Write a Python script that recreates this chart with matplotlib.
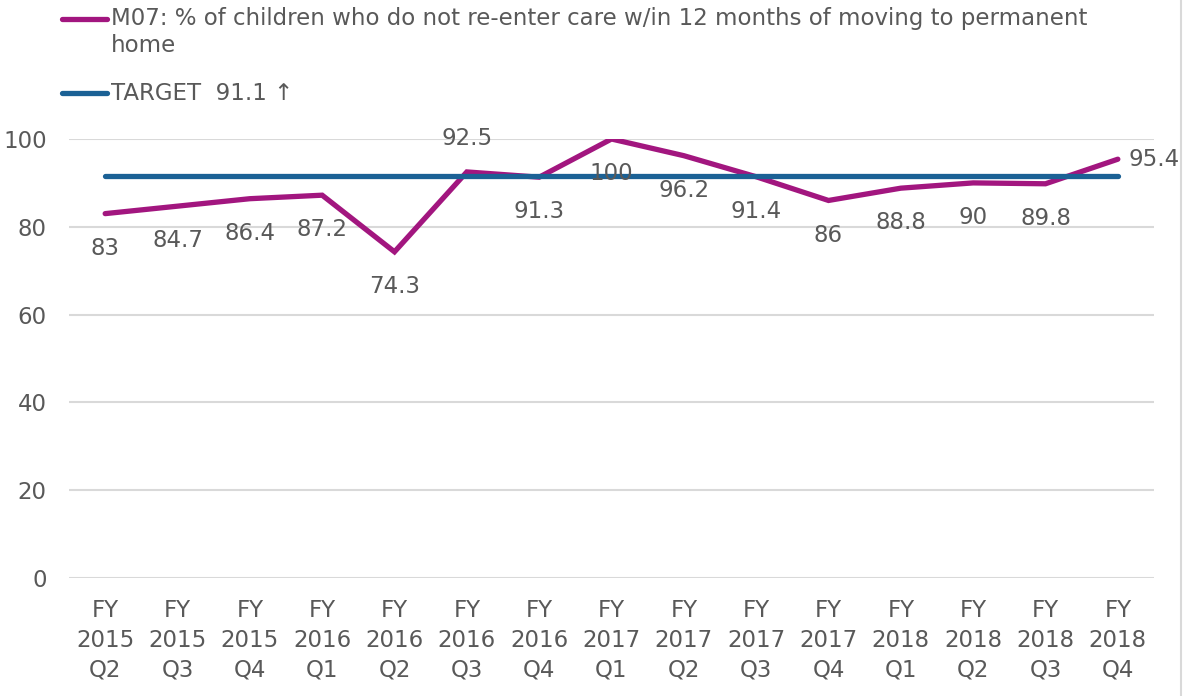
import matplotlib
matplotlib.use("Agg")
import matplotlib.pyplot as plt
from matplotlib.lines import Line2D

categories = ["FY\n2015\nQ2", "FY\n2015\nQ3", "FY\n2015\nQ4", "FY\n2016\nQ1", "FY\n2016\nQ2",
              "FY\n2016\nQ3", "FY\n2016\nQ4", "FY\n2017\nQ1", "FY\n2017\nQ2", "FY\n2017\nQ3",
              "FY\n2017\nQ4", "FY\n2018\nQ1", "FY\n2018\nQ2", "FY\n2018\nQ3", "FY\n2018\nQ4"]
m07_values = [83, 84.7, 86.4, 87.2, 74.3, 92.5, 91.3, 100, 96.2, 91.4, 86, 88.8, 90, 89.8, 95.4]
label_texts = ["83", "84.7", "86.4", "87.2", "74.3", "92.5", "91.3", "100", "96.2", "91.4",
               "86", "88.8", "90", "89.8", "95.4"]
label_pos = ["below", "below", "below", "below", "below", "above", "below", "below", "below",
             "below", "below", "below", "below", "below", "right"]
target_value = 91.6   # as drawn in the picture
series_label_lines = ["M07: % of children who do not re-enter care w/in 12 months of moving to permanent",
                      "home"]
target_label = "TARGET  91.1 \u2191"
yticks = [0, 20, 40, 60, 80, 100]

PURPLE = "#A2167F"
BLUE = "#1B6195"
TXT = "#595959"
GRID = "#D9D9D9"
FS = 16.5

plt.rcParams['font.family'] = ['DejaVu Sans']

fig = plt.figure(figsize=(11.88, 6.96), dpi=100)
ax = fig.add_axes([69/1188, 1 - 578/696, (1154-69)/1188, (578-139)/696])

x = list(range(len(categories)))
ax.plot(x, m07_values, color=PURPLE, lw=3.8, solid_capstyle="round", solid_joinstyle="miter", zorder=3)
ax.plot(x, [target_value]*len(x), color=BLUE, lw=3.8, solid_capstyle="round", zorder=4)

for xi, v, t, p in zip(x, m07_values, label_texts, label_pos):
    if p == "below":
        off, ha, va = (0, -25), "center", "center"
    elif p == "above":
        off, ha, va = (0, 24), "center", "center"
    else:
        off, ha, va = (8, 0), "left", "center"
    ax.annotate(t, (xi, v), xytext=off, textcoords="offset points", ha=ha, va=va,
                fontsize=FS, color=TXT, zorder=5)

ax.set_xlim(-0.5, len(categories) - 0.5)
ax.set_ylim(0, 100)
ax.set_yticks(yticks)
ax.set_yticklabels([str(v) for v in yticks])
ax.set_xticks(x)
ax.set_xticklabels(categories, linespacing=1.38)
ax.tick_params(axis="both", length=0, labelsize=FS, labelcolor=TXT)
ax.tick_params(axis="y", pad=16)
ax.tick_params(axis="x", pad=15)
ax.grid(axis="y", color=GRID, lw=1.5)
ax.set_axisbelow(True)
for s in ax.spines.values():
    s.set_visible(False)

# legend (manual)
fig.add_artist(Line2D([62/1188, 107/1188], [1 - 19/696, 1 - 19/696], color=PURPLE, lw=3.8,
                      solid_capstyle="round", transform=fig.transFigure))
fig.text(111/1188, 1 - 19/696, series_label_lines[0], fontsize=FS, color=TXT, va="center", ha="left")
fig.text(111/1188, 1 - 46/696, series_label_lines[1], fontsize=FS, color=TXT, va="center", ha="left")
fig.add_artist(Line2D([62/1188, 107/1188], [1 - 93/696, 1 - 93/696], color=BLUE, lw=3.8,
                      solid_capstyle="round", transform=fig.transFigure))
fig.text(111/1188, 1 - 93/696, target_label, fontsize=FS, color=TXT, va="center", ha="left")

# right border
fig.add_artist(Line2D([1181/1188, 1181/1188], [0, 1], color=GRID, lw=1.5, transform=fig.transFigure))

fig.savefig("out.png", dpi=100, facecolor="white")
